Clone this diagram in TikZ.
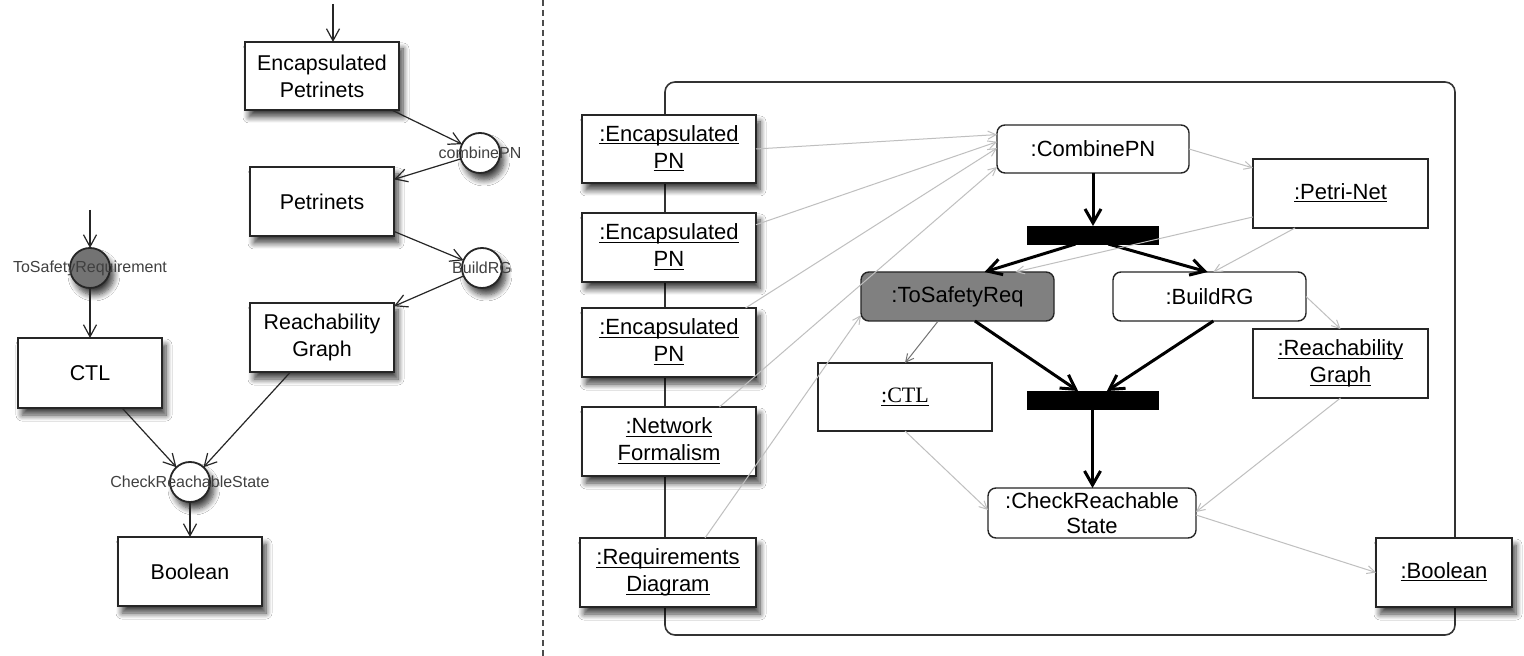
\documentclass[tikz,border=0pt]{standalone}
\usepackage{fontspec}
\setmainfont{Liberation Sans}
\newfontfamily\ctlfont{Liberation Serif}
\usetikzlibrary{arrows.meta,calc,shadows.blur}
% underline set close to the baseline, through the descenders
\newcommand\udl[1]{\underline{\vphantom{A}\smash{#1}}}

\begin{document}
\begin{tikzpicture}[x=0.5pt,y=-0.5pt,
  every node/.style={inner sep=0pt, outer sep=0pt},
  dshadow/.style={blur shadow={shadow xshift=2pt, shadow yshift=-3.5pt, shadow blur radius=3pt, shadow blur steps=8, shadow opacity=75}},
  classbox/.style={draw=black!85, line width=0.9pt, fill=white, align=center, font=\fontsize{10.7}{13.5}\selectfont, dshadow},
  place/.style={circle, draw=black!85, line width=0.9pt, fill=white, minimum size=20pt, dshadow},
  placelabel/.style={font=\fontsize{8}{9}\selectfont, text=black!75},
  flow/.style={-{Straight Barb[length=6pt,width=6.5pt]}, line width=0.6pt, draw=black!85},
  objbox/.style={draw=black!85, line width=0.7pt, fill=white, align=center, font=\fontsize{11}{13.5}\selectfont},
  actbox/.style={objbox, rounded corners=4pt},
  syncbar/.style={fill=black, draw=black, minimum width=65.5pt, minimum height=9pt},
  ctrl/.style={-{Straight Barb[length=7pt,width=8pt]}, line width=1.5pt},
  dataflow/.style={-{Straight Barb[length=4pt,width=4pt]}, line width=0.5pt, draw=black!25},
]
\fill[white] (0,0) rectangle (1524,656);
\useasboundingbox (0,0) rectangle (1524,656);

% ---------- type level: places and transitions ----------
\node[classbox, minimum width=77pt, minimum height=34pt] (encP) at (322,76) {Encapsulated\\Petrinets};
\node[classbox, minimum width=72pt, minimum height=34.5pt] (petri) at (322,201.5) {Petrinets};
\node[classbox, minimum width=72pt, minimum height=34.5pt] (reach) at (322,337.5) {Reachability\\Graph};
\node[classbox, minimum width=72pt, minimum height=35pt] (ctl) at (90,373) {CTL};
\node[classbox, minimum width=72pt, minimum height=34.5pt] (bool) at (190,571.5) {Boolean};

\node[place] (combine) at (480,153) {};
\node[placelabel] (combineL) at (combine) {combinePN};
\node[place] (build) at (482,268) {};
\node[placelabel] (buildL) at (build) {BuildRG};
\node[place, fill=black!55] (tosafety) at (90,268) {};
\node[placelabel] (tosafetyL) at (tosafety) {ToSafetyRequirement};
\node[place] (check) at (190,482) {};
\node[placelabel] (checkL) at (check) {CheckReachableState};

\coordinate (encIn) at (333,4);
\coordinate (tsIn) at (90,210);
\draw[flow] (encIn) -- (encIn |- encP.north);
\draw[flow] (tsIn) -- (tosafety);
\draw[flow] (encP) -- (combine);
\draw[flow] (combine) -- (petri);
\draw[flow] (petri) -- (build);
\draw[flow] (build) -- (reach);
\draw[flow] (tosafety) -- (ctl);
\draw[flow] (ctl) -- (check);
\draw[flow] (reach) -- (check);
\draw[flow] (check) -- (bool);

% ---------- separator ----------
\coordinate (sepT) at (543,0);
\coordinate (sepB) at (543,656);
\draw[black!70, line width=0.7pt, dash pattern=on 3pt off 2pt] (sepT) -- (sepB);

% ---------- instance level: activity ----------
\node[draw=black!80, line width=0.8pt, rounded corners=5pt, minimum width=395pt, minimum height=276.5pt] (frame) at (1060,358.5) {};

\node[objbox, dshadow, minimum width=87pt, minimum height=34pt] (epnA) at (669,149) {\udl{:Encapsulated}\\\udl{PN}};
\node[objbox, dshadow, minimum width=87pt, minimum height=34.5pt] (epnB) at (669,247.5) {\udl{:Encapsulated}\\\udl{PN}};
\node[objbox, dshadow, minimum width=87pt, minimum height=34.5pt] (epnC) at (669,342.5) {\udl{:Encapsulated}\\\udl{PN}};
\node[objbox, dshadow, minimum width=87pt, minimum height=34.5pt] (netf) at (669,441.5) {\udl{:Network}\\\udl{Formalism}};
\node[objbox, dshadow, minimum width=88pt, minimum height=34.5pt] (reqd) at (668,572.5) {\udl{:Requirements}\\\udl{Diagram}};

\node[actbox, minimum width=96pt, minimum height=24pt] (cpn) at (1093,149) {:CombinePN};
\node[syncbar] (barA) at (1092.5,235) {};
\node[actbox, fill=black!50, minimum width=96.5pt, minimum height=24.5pt] (tsr) at (957.5,296.5) {:ToSafetyReq};
\node[actbox, minimum width=96.5pt, minimum height=24.5pt] (brg) at (1209.5,296.5) {:BuildRG};
\node[syncbar] (barB) at (1092.5,400) {};
\node[actbox, minimum width=104pt, minimum height=25pt, font=\fontsize{11}{12.5}\selectfont] (crs) at (1092,513) {:CheckReachable\\State};

\node[objbox, minimum width=87pt, minimum height=34pt] (ctlR) at (905,397) {\ctlfont\udl{:CTL}};
\node[objbox, minimum width=87.5pt, minimum height=34.5pt] (pnet) at (1340.5,193.5) {\udl{:Petri-Net}};
\node[objbox, minimum width=87.5pt, minimum height=34.5pt] (rgR) at (1340.5,363.5) {\udl{:Reachability}\\\udl{Graph}};
\node[objbox, dshadow, minimum width=68pt, minimum height=34.5pt] (boolR) at (1444,572.5) {\udl{:Boolean}};

% control flow
\draw[ctrl] (cpn.south) -- (cpn.south |- barA.north);
\draw[ctrl] ($(barA.south west)!0.37!(barA.south east)$) -- ($(tsr.north west)!0.64!(tsr.north east)$);
\draw[ctrl] ($(barA.south west)!0.62!(barA.south east)$) -- ($(brg.north west)!0.49!(brg.north east)$);
\draw[ctrl] ($(tsr.south west)!0.59!(tsr.south east)$) -- ($(barB.north west)!0.39!(barB.north east)$);
\draw[ctrl] ($(brg.south west)!0.52!(brg.south east)$) -- ($(barB.north west)!0.61!(barB.north east)$);
\draw[ctrl] (barB.south) -- (barB.south |- crs.north);

% object flow
\draw[dataflow] (epnA.east) -- ($(cpn.north west)!0.2!(cpn.south west)$);
\draw[dataflow] ($(epnB.north east)!0.17!(epnB.south east)$) -- ($(cpn.north west)!0.35!(cpn.south west)$);
\draw[dataflow] ($(epnC.north west)!0.94!(epnC.north east)$) -- ($(cpn.north west)!0.48!(cpn.south west)$);
\draw[dataflow] ($(netf.north west)!0.79!(netf.north east)$) -- ($(cpn.north west)!0.875!(cpn.south west)$);
\draw[dataflow] ($(reqd.north west)!0.71!(reqd.north east)$) -- ($(tsr.north west)!0.88!(tsr.south west)$);
\draw[dataflow] (cpn.east) -- ($(pnet.north west)!0.13!(pnet.south west)$);
\draw[dataflow] ($(pnet.south west)!0.24!(pnet.south east)$) -- ($(brg.north west)!0.52!(brg.north east)$);
\draw[dataflow] ($(pnet.north west)!0.84!(pnet.south west)$) -- ($(tsr.north west)!0.8!(tsr.north east)$);
\draw[dataflow] ($(brg.north east)!0.5!(brg.south east)$) -- (rgR.north);
\draw[dataflow, draw=black!55] ($(tsr.south west)!0.4!(tsr.south east)$) -- (ctlR.north);
\draw[dataflow] (ctlR.south) -- ($(crs.north west)!0.44!(crs.south west)$);
\draw[dataflow] (rgR.south) -- ($(crs.north east)!0.48!(crs.south east)$);
\draw[dataflow] ($(crs.north east)!0.54!(crs.south east)$) -- (boolR.west);
\end{tikzpicture}
\end{document}
